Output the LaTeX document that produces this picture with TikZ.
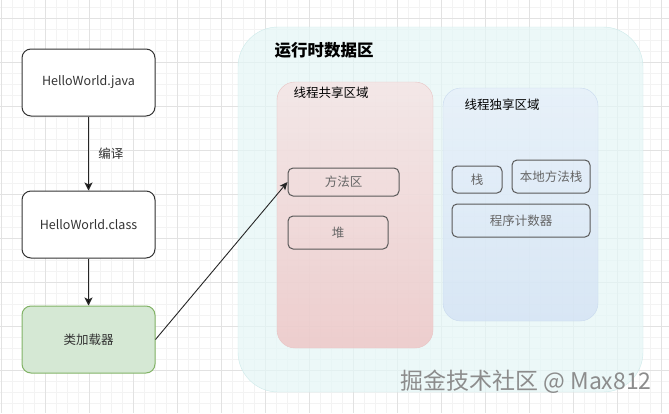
\documentclass[tikz,border=0pt]{standalone}
\usepackage{fontspec}
\setmainfont{Noto Sans CJK SC}
\usetikzlibrary{positioning,arrows.meta}

\definecolor{gridminor}{RGB}{243,243,243}
\definecolor{gridmajor}{RGB}{226,226,226}
\definecolor{outerfill}{RGB}{228,246,246}
\definecolor{outerline}{RGB}{205,234,234}
\definecolor{sharetop}{RGB}{246,226,226}
\definecolor{sharebot}{RGB}{238,192,192}
\definecolor{shareline}{RGB}{232,195,195}
\definecolor{owntop}{RGB}{230,239,250}
\definecolor{ownbot}{RGB}{210,225,244}
\definecolor{ownline}{RGB}{200,217,238}
\definecolor{loaderfill}{RGB}{213,232,212}
\definecolor{loaderline}{RGB}{130,179,102}

\tikzset{
  box/.style={draw=black!80, line width=1pt, rounded corners=9pt, fill=white,
    minimum width=133pt, minimum height=67pt, inner sep=0pt,
    font=\fontsize{12.5}{15}\selectfont, text=black!80},
  part/.style={draw=black!65, line width=1pt, rounded corners=5pt, inner sep=0pt,
    font=\fontsize{12.5}{15}\selectfont, text=black!60},
  region/.style={inner sep=0pt, fill opacity=0.75},
  arr/.style={-{Stealth[length=8pt,width=8pt,inset=2pt]}, line width=1.2pt, draw=black!85},
}

\begin{document}
\begin{tikzpicture}[x=1pt,y=-1pt]
\useasboundingbox (0,0) rectangle (669,413);
\fill[white] (0,0) rectangle (669,413);
% grid
\foreach \gx in {1,12,...,669} \draw[gridminor,line width=0.6pt] (\gx,0) -- (\gx,413);
\foreach \gy in {7,18,...,413} \draw[gridminor,line width=0.6pt] (0,\gy) -- (669,\gy);
\foreach \gx in {1,45,...,669} \draw[gridmajor,line width=0.7pt] (\gx,0) -- (\gx,413);
\foreach \gy in {18,62,...,413} \draw[gridmajor,line width=0.7pt] (0,\gy) -- (669,\gy);

% runtime data area
\node[region, draw=outerline, fill=outerfill, rounded corners=40pt, fill opacity=0.7,
  minimum width=405pt, minimum height=365pt] at (440.5,209.5) (runtime) {};
\node[anchor=west, font=\fontsize{16.5}{18}\selectfont\bfseries] at (271,50) (runtimelbl) {运行时数据区};
\shade[region, draw=shareline, rounded corners=18pt, top color=sharetop, bottom color=sharebot]
  (277,82) rectangle (433,348);
\coordinate (shared) at (355,215);
\node[anchor=west, font=\fontsize{12.5}{15}\selectfont] at (290,93) (sharedlbl) {线程共享区域};
\shade[region, draw=ownline, rounded corners=18pt, top color=owntop, bottom color=ownbot]
  (443,88) rectangle (598,321);
\coordinate (own) at (520.5,204.5);
\node[anchor=west, font=\fontsize{12.5}{15}\selectfont] at (461,105) (ownlbl) {线程独享区域};

% parts
\node[part, minimum width=111pt, minimum height=28pt] at (343.5,182) (method) {方法区};
\node[part, minimum width=100pt, minimum height=33pt] at (338,232.5) (heap) {堆};
\node[part, minimum width=50pt, minimum height=27pt] at (477,179.5) (stack) {栈};
\node[part, minimum width=78pt, minimum height=33pt] at (551,176.5) (native) {本地方法栈};
\node[part, minimum width=138pt, minimum height=33pt] at (521,220.5) (pc) {程序计数器};

% left chain
\node[box] at (88.5,82.5) (java) {HelloWorld.java};
\node[box, below=74pt of java] (class) {HelloWorld.class};
\node[box, below=47pt of class, fill=loaderfill, draw=loaderline] (loader) {类加载器};

\path[arr]
(java) edge node[right=6pt, font=\fontsize{12.5}{15}\selectfont, text=black!80]{编译} (class)
(class) edge (loader)
;
\draw[-{Stealth[length=8pt,width=7pt,inset=2pt]}, line width=0.9pt, draw=black!85]
  (loader.east) -- (method.west);

\node[text=black!45, font=\fontsize{23}{26}\selectfont] at (526,382) (mark) {掘金技术社区 @ Max812};
\end{tikzpicture}
\end{document}
